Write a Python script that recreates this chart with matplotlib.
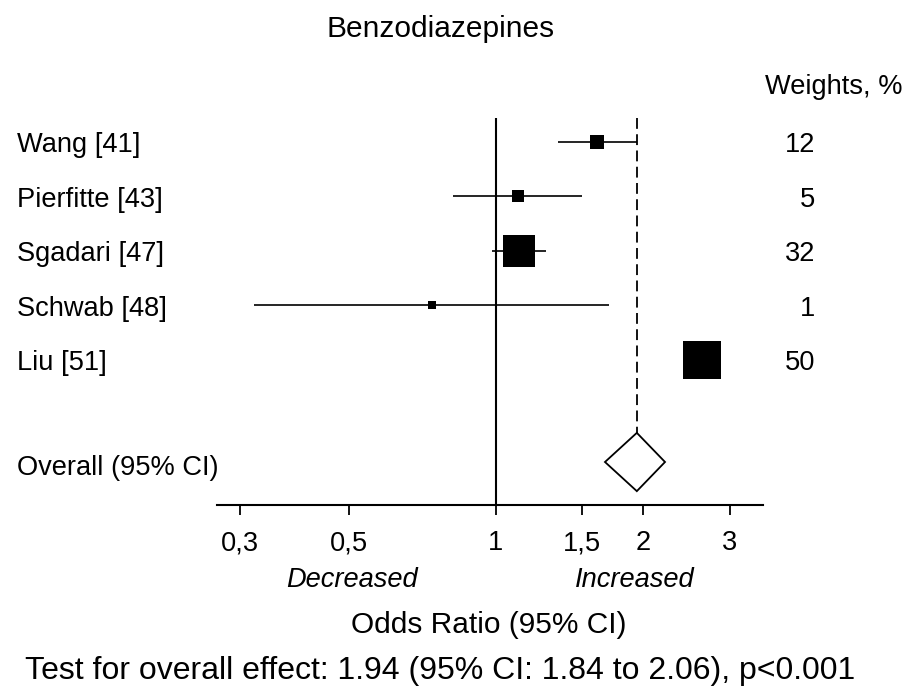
import matplotlib
matplotlib.use('Agg')
import matplotlib.pyplot as plt
from matplotlib.transforms import blended_transform_factory, offset_copy
from matplotlib.patches import Polygon
from matplotlib.ticker import NullLocator

# ---------------- data ----------------
studies = ["Wang [41]", "Pierfitte [43]", "Sgadari [47]", "Schwab [48]", "Liu [51]"]
odds_ratio = [1.61, 1.11, 1.115, 0.74, 2.64]
ci_low = [1.34, 0.816, 0.983, 0.320, 2.52]
ci_high = [1.94, 1.50, 1.265, 1.70, 2.76]
weights = [12, 5, 32, 1, 50]
overall_or = 1.94
overall_ci_low = 1.84
overall_ci_high = 2.06
diamond_low = 1.67
diamond_high = 2.215
tick_values = [0.3, 0.5, 1, 1.5, 2, 3]
tick_labels = ["0,3", "0,5", "1", "1,5", "2", "3"]

# ---------------- style ----------------
square_px = [14, 11.7, 32.3, 8, 37.6]     # marker side lengths in pixels
plt.rcParams['font.family'] = ['Liberation Sans', 'DejaVu Sans']
W, H = 907, 688
DPI = 100
fs_small = 19.6
fs_big = 21.5
fs_test = 23

fig = plt.figure(figsize=(W / DPI, H / DPI), dpi=DPI)
fig.patch.set_facecolor('white')

ax_top_px, ax_bot_px = 118, 505
ax_left_px, ax_right_px = 217, 763
ax = fig.add_axes([ax_left_px / W, 1 - ax_bot_px / H,
                   (ax_right_px - ax_left_px) / W, (ax_bot_px - ax_top_px) / H])

row_px0, row_step = 141.7, 54.5
rows = list(range(len(studies)))
overall_row = 5.877
y_top = (ax_top_px - row_px0) / row_step
y_bot = (ax_bot_px - row_px0) / row_step
ax.set_ylim(y_bot, y_top)
ax.set_xscale('log')
ax.set_xlim(0.2692, 3.512)

for s in ['top', 'left', 'right']:
    ax.spines[s].set_visible(False)
ax.spines['bottom'].set_linewidth(1.5)
ax.yaxis.set_major_locator(NullLocator())
ax.xaxis.set_minor_locator(NullLocator())
ax.set_xticks(tick_values)
ax.set_xticklabels(tick_labels, fontsize=fs_small)
ax.tick_params(axis='x', direction='out', length=7.2, width=1.3, pad=11, colors='black')
ax.patch.set_alpha(0)

# reference line at 1
ax.axvline(1, color='black', lw=1.5, zorder=1)

# dashed line at overall estimate, down to diamond top
diamond_half = 0.535
ax.plot([overall_or, overall_or], [y_top, overall_row - diamond_half], color='black',
        lw=1.3, linestyle=(0, (6, 3)), zorder=1)

# CI lines and squares
for r, o, lo, hi, sp in zip(rows, odds_ratio, ci_low, ci_high, square_px):
    ax.plot([lo, hi], [r, r], color='black', lw=1.2, zorder=2, solid_capstyle='butt')
    ax.plot([o], [r], marker='s', markersize=sp * 72 / DPI, color='black',
            markeredgewidth=0, zorder=3)

# diamond
diamond = Polygon([[diamond_low, overall_row], [overall_or, overall_row - diamond_half],
                   [diamond_high, overall_row], [overall_or, overall_row + diamond_half]],
                  closed=True, facecolor='white', edgecolor='black', lw=1.3, zorder=4)
ax.add_patch(diamond)

# row labels and weights
tr_fig_data = blended_transform_factory(fig.transFigure, ax.transData)
tr_base = offset_copy(tr_fig_data, fig=fig, x=0, y=-10.5, units='dots')
for r, name, w in zip(rows, studies, weights):
    fig.text(16.7 / W, r, name, transform=tr_base, ha='left', va='baseline', fontsize=fs_small)
    fig.text(815 / W, r, str(w), transform=tr_base, ha='right', va='baseline', fontsize=fs_small)
tr_base2 = offset_copy(tr_fig_data, fig=fig, x=0, y=-13, units='dots')
fig.text(16.7 / W, overall_row, "Overall (95% CI)", transform=tr_base2, ha='left',
         va='baseline', fontsize=fs_small)

fig.text(765 / W, 1 - 94.5 / H, "Weights, %", ha='left', va='baseline', fontsize=fs_small)
fig.text(440.7 / W, 1 - 36.7 / H, "Benzodiazepines", ha='center', va='baseline', fontsize=fs_big)

# direction labels
tr_data_fig = blended_transform_factory(ax.transData, fig.transFigure)
fig.text(0.507, 1 - 586.7 / H, "Decreased", transform=tr_data_fig, ha='center', va='baseline',
         fontsize=fs_small, style='italic')
fig.text(1.923, 1 - 586.7 / H, "Increased", transform=tr_data_fig, ha='center', va='baseline',
         fontsize=fs_small, style='italic')

fig.text(489.2 / W, 1 - 633 / H, "Odds Ratio (95% CI)", ha='center', va='baseline', fontsize=fs_big)
fig.text(440 / W, 1 - 679 / H,
         f"Test for overall effect: {overall_or:.2f} (95% CI: {overall_ci_low:.2f} to {overall_ci_high:.2f}), p<0.001",
         ha='center', va='baseline', fontsize=fs_test)

fig.savefig('out.png', dpi=DPI, facecolor='white')
